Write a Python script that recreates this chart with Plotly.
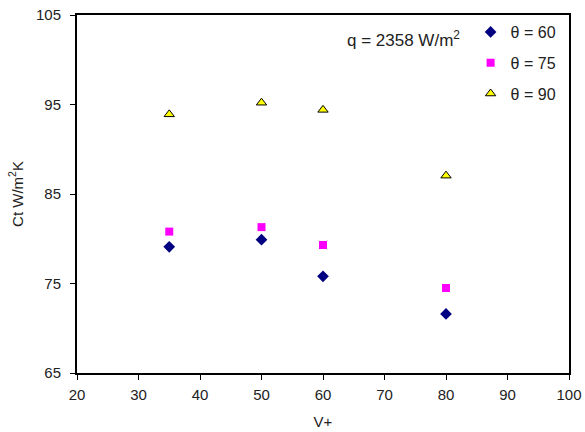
import plotly.graph_objects as go

v_plus = [35, 50, 60, 80]
ct_60 = [79.1, 79.9, 75.8, 71.6]
ct_75 = [80.8, 81.3, 79.3, 74.5]
ct_90 = [93.9, 95.2, 94.4, 87.05]
series_names = ["θ = 60", "θ = 75", "θ = 90"]

fig = go.Figure()
fig.add_trace(go.Scatter(x=v_plus, y=ct_60, mode="markers", name=series_names[0], legendgroup="a",
                         marker=dict(symbol="diamond", size=9, color="#000080")))
fig.add_trace(go.Scatter(x=v_plus, y=ct_75, mode="markers", name=series_names[1], legendgroup="b",
                         marker=dict(symbol="square", size=8, color="#FF00FF")))
fig.add_trace(go.Scatter(x=v_plus, y=ct_90, mode="markers", name=series_names[2], legendgroup="c",
                         marker=dict(symbol="triangle-up", size=9, color="#FFFF00",
                                     line=dict(color="black", width=1))))

axis_common = dict(showgrid=False, zeroline=False, showline=True, linecolor="black", linewidth=2,
                   mirror=True, ticks="outside", ticklen=5, tickcolor="black", tickwidth=1,
                   tickfont=dict(size=15, color="#222"), automargin=False)

fig.update_layout(
    width=585, height=432,
    margin=dict(l=77, r=16, t=15, b=59),
    paper_bgcolor="white", plot_bgcolor="white",
    font=dict(family="Liberation Sans, Arial, sans-serif", color="#222"),
    xaxis=dict(range=[20, 100], tick0=20, dtick=10, ticklabelstandoff=2,
               title=dict(text="V+", font=dict(size=15), standoff=14), **axis_common),
    yaxis=dict(range=[65, 105], tick0=65, dtick=10, ticklabelstandoff=6,
               title=dict(text="Ct W/m<sup>2</sup>K", font=dict(size=15), standoff=9), **axis_common),
    legend=dict(x=0.80, y=1.0, xanchor="left", yanchor="top", font=dict(size=16, color="#222"),
                bgcolor="rgba(0,0,0,0)", tracegroupgap=7, itemwidth=30),
    annotations=[dict(text="q = 2358 W/m<sup>2</sup>", x=0.545, y=0.933, xref="paper", yref="paper",
                      xanchor="left", yanchor="middle", showarrow=False, font=dict(size=17, color="#222"))],
)

fig.write_html("out.html", config={"displayModeBar": False},
               post_script="document.body.style.margin='0';")
